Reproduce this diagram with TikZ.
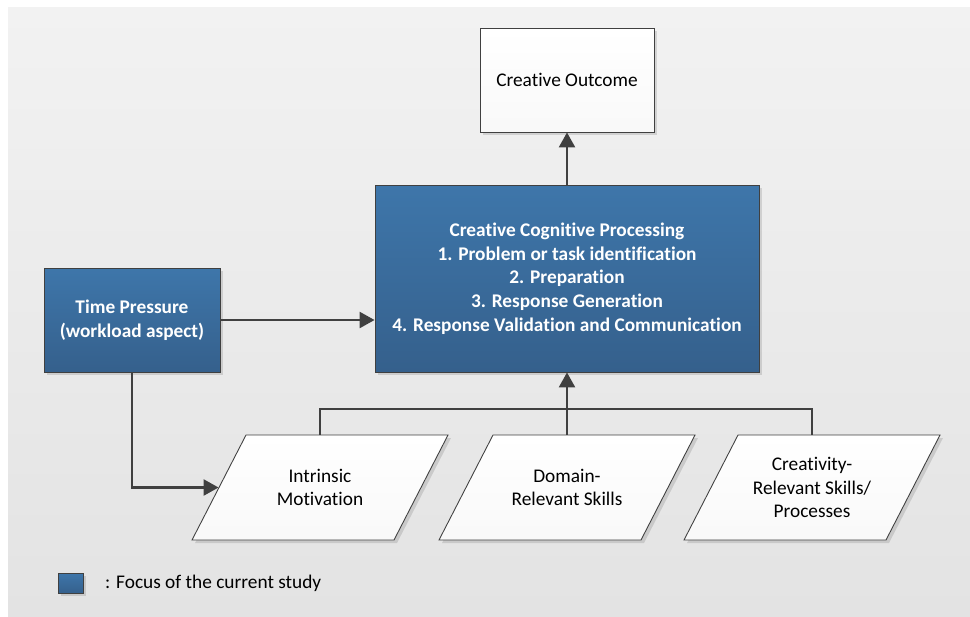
\documentclass[tikz,border=0pt]{standalone}
\usepackage{fontspec}
\setmainfont{Carlito}[Ligatures=NoCommon]
\usetikzlibrary{arrows.meta,shadows}

\definecolor{focusTop}{RGB}{62,118,170}
\definecolor{focusBot}{RGB}{53,96,140}
\definecolor{edgeGray}{RGB}{64,64,64}
\definecolor{bgTop}{RGB}{242,242,242}
\definecolor{bgBot}{RGB}{227,227,227}

\begin{document}
\begin{tikzpicture}[
  focus/.style={draw=edgeGray, rectangle, top color=focusTop, bottom color=focusBot, text=white, align=center, font=\fontsize{11}{13.5}\selectfont\bfseries, line width=0.5pt, inner sep=2pt, drop shadow={shadow xshift=0.06cm, shadow yshift=-0.06cm, fill=black, opacity=0.12}},
  outbox/.style={draw=edgeGray, rectangle, top color=white, bottom color=gray!5, align=center, font=\fontsize{11}{13.5}\selectfont, line width=0.5pt, inner sep=2pt, drop shadow={shadow xshift=0.06cm, shadow yshift=-0.06cm, fill=black, opacity=0.12}},
  factor/.style={rectangle, minimum width=4.04cm, minimum height=2.1cm, align=center, font=\fontsize{11}{13.5}\selectfont, inner sep=2pt},
  slantbox/.style={draw=edgeGray, top color=white, bottom color=gray!5, line width=0.5pt, drop shadow={shadow xshift=0.06cm, shadow yshift=-0.06cm, fill=black, opacity=0.12}},
  legend/.style={draw=edgeGray, rectangle, top color=focusTop, bottom color=focusBot, minimum width=0.5cm, minimum height=0.4cm, line width=0.5pt, inner sep=0pt, drop shadow={shadow xshift=0.05cm, shadow yshift=-0.05cm, fill=black, opacity=0.12}},
  arrow/.style={-{Triangle[length=0.3cm, width=0.32cm]}, line width=1.4pt, draw=edgeGray},
  link/.style={line width=1.4pt, draw=edgeGray}
]

\useasboundingbox (0,0) rectangle (19.4,-12.32);
\fill[top color=bgTop, bottom color=bgBot] (0.16,-0.14) rectangle (19.4,-12.32);

% ==================== Outcome and processing ====================
\node[outbox, minimum width=3.48cm, minimum height=2.08cm] (outcome) at (11.34, -1.6) {Creative Outcome};

\node[focus, minimum width=7.68cm, minimum height=3.74cm] (ccp) at (11.34, -5.57) {Creative Cognitive Processing\\1. Problem or task identification\\2. Preparation\\3. Response Generation\\4. Response Validation and Communication};

\node[focus, minimum width=3.52cm, minimum height=2.08cm] (tp) at (2.64, -6.4) {Time Pressure\\(workload aspect)};

\draw[arrow] (ccp.north) -- (outcome.south);
\draw[arrow] (tp.east) -- (tp.east -| ccp.west);

% ==================== Components (parallelograms) ====================
\path[slantbox] (6.4, -9.75) node[factor] (im) {Intrinsic\\Motivation}
  ++(-2.56,-1.05) -- ++(4.04,0) -- ++(1.08,2.1) -- ++(-4.04,0) -- cycle;
\path[slantbox] (11.34, -9.75) node[factor] (dr) {Domain-\\Relevant Skills}
  ++(-2.56,-1.05) -- ++(4.04,0) -- ++(1.08,2.1) -- ++(-4.04,0) -- cycle;
\path[slantbox] (16.24, -9.75) node[factor] (cr) {Creativity-\\Relevant Skills/\\Processes}
  ++(-2.56,-1.05) -- ++(4.04,0) -- ++(1.08,2.1) -- ++(-4.04,0) -- cycle;

\coordinate (bus) at (11.34, -8.18);
\draw[link] (im.north) |- (bus) -| (cr.north);
\draw[arrow] (dr.north) -- (ccp.south);
\draw[arrow] (tp.south) |- (im.west);

% ==================== Legend ====================
\node[legend] (key) at (1.41, -11.66) {};
\node[anchor=west, font=\fontsize{11}{13.5}\selectfont] (keytext) at (1.98, -11.66) {: Focus of the current study};

\end{tikzpicture}
\end{document}
